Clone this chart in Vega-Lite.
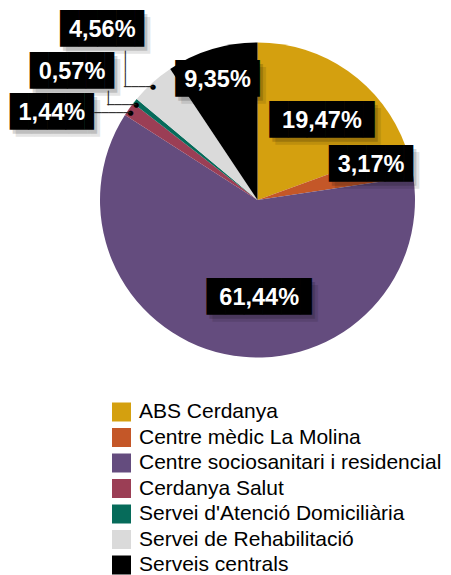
{
  "$schema": "https://vega.github.io/schema/vega-lite/v6.json",
  "width": 315,
  "height": 315,
  "autosize": {"type": "none"},
  "padding": {"left": 100, "top": 42.5, "right": 36, "bottom": 217.5},
  "background": "white",
  "config": {"view": {"stroke": null}},
  "data": {"values": [
    {"category": "ABS Cerdanya", "value": 19.47, "label": "19,47%"},
    {"category": "Centre mèdic La Molina", "value": 3.17, "label": "3,17%"},
    {"category": "Centre sociosanitari i residencial", "value": 61.44, "label": "61,44%"},
    {"category": "Cerdanya Salut", "value": 1.44, "label": "1,44%"},
    {"category": "Servei d'Atenció Domiciliària", "value": 0.57, "label": "0,57%"},
    {"category": "Servei de Rehabilitació", "value": 4.56, "label": "4,56%"},
    {"category": "Serveis centrals", "value": 9.35, "label": "9,35%"}
  ]},
  "encoding": {
    "theta": {"field": "value", "type": "quantitative", "stack": true},
    "order": {"field": "category", "type": "ordinal"}
  },
  "layer": [
    {"mark": {"type": "arc"},
     "encoding": {"color": {"field": "category", "type": "nominal",
       "scale": {"range": ["#D4A00F", "#C45728", "#644C7E", "#9B3E55", "#066B5A", "#DADADA", "#000000"]},
       "legend": {"orient": "none", "legendX": 11, "legendY": 359, "title": null, "padding": 0,
         "symbolType": "square", "symbolSize": 361, "symbolStrokeWidth": 0, "labelFont": "Liberation Sans",
         "labelFontSize": 21, "labelColor": "#000000", "labelOffset": 7, "labelLimit": 400, "rowPadding": 3.5}}}},

    {"mark": {"type": "text", "radius": 102, "thetaOffset": 0.0724, "font": "DejaVu Sans Mono", "fontSize": 31, "align": "center", "baseline": "middle", "dx": 6.5, "dy": 4, "color": "#000", "opacity": 0.16},
     "encoding": {"detail": {"field": "category"}, "text": {"condition": {"test": "datum.label === '19,47%'", "value": "█████▋"}, "value": ""}}},
    {"mark": {"type": "text", "radius": 102, "thetaOffset": 0.0724, "font": "DejaVu Sans Mono", "fontSize": 31, "align": "center", "baseline": "middle", "dx": 9.5, "dy": 7, "color": "#000", "opacity": 0.1},
     "encoding": {"detail": {"field": "category"}, "text": {"condition": {"test": "datum.label === '19,47%'", "value": "█████▋"}, "value": ""}}},
    {"mark": {"type": "text", "radius": 118.8, "thetaOffset": -0.0506, "font": "DejaVu Sans Mono", "fontSize": 31, "align": "center", "baseline": "middle", "dx": 7.67, "dy": 4, "color": "#000", "opacity": 0.16},
     "encoding": {"detail": {"field": "category"}, "text": {"condition": {"test": "datum.label === '3,17%'", "value": "████▌"}, "value": ""}}},
    {"mark": {"type": "text", "radius": 118.8, "thetaOffset": -0.0506, "font": "DejaVu Sans Mono", "fontSize": 31, "align": "center", "baseline": "middle", "dx": 10.67, "dy": 7, "color": "#000", "opacity": 0.1},
     "encoding": {"detail": {"field": "category"}, "text": {"condition": {"test": "datum.label === '3,17%'", "value": "████▌"}, "value": ""}}},
    {"mark": {"type": "text", "radius": 98, "thetaOffset": -0.2286, "font": "DejaVu Sans Mono", "fontSize": 31, "align": "center", "baseline": "middle", "dx": 6.5, "dy": 4, "color": "#000", "opacity": 0.16},
     "encoding": {"detail": {"field": "category"}, "text": {"condition": {"test": "datum.label === '61,44%'", "value": "█████▋"}, "value": ""}}},
    {"mark": {"type": "text", "radius": 98, "thetaOffset": -0.2286, "font": "DejaVu Sans Mono", "fontSize": 31, "align": "center", "baseline": "middle", "dx": 9.5, "dy": 7, "color": "#000", "opacity": 0.1},
     "encoding": {"detail": {"field": "category"}, "text": {"condition": {"test": "datum.label === '61,44%'", "value": "█████▋"}, "value": ""}}},
    {"mark": {"type": "text", "radius": 223.2, "thetaOffset": -0.2164, "font": "DejaVu Sans Mono", "fontSize": 31, "align": "center", "baseline": "middle", "dx": 7.67, "dy": 4, "color": "#000", "opacity": 0.16},
     "encoding": {"detail": {"field": "category"}, "text": {"condition": {"test": "datum.label === '1,44%'", "value": "████▌"}, "value": ""}}},
    {"mark": {"type": "text", "radius": 223.2, "thetaOffset": -0.2164, "font": "DejaVu Sans Mono", "fontSize": 31, "align": "center", "baseline": "middle", "dx": 10.67, "dy": 7, "color": "#000", "opacity": 0.1},
     "encoding": {"detail": {"field": "category"}, "text": {"condition": {"test": "datum.label === '1,44%'", "value": "████▌"}, "value": ""}}},
    {"mark": {"type": "text", "radius": 225.4, "thetaOffset": -0.075, "font": "DejaVu Sans Mono", "fontSize": 31, "align": "center", "baseline": "middle", "dx": 7.67, "dy": 4, "color": "#000", "opacity": 0.16},
     "encoding": {"detail": {"field": "category"}, "text": {"condition": {"test": "datum.label === '0,57%'", "value": "████▌"}, "value": ""}}},
    {"mark": {"type": "text", "radius": 225.4, "thetaOffset": -0.075, "font": "DejaVu Sans Mono", "fontSize": 31, "align": "center", "baseline": "middle", "dx": 10.67, "dy": 7, "color": "#000", "opacity": 0.1},
     "encoding": {"detail": {"field": "category"}, "text": {"condition": {"test": "datum.label === '0,57%'", "value": "████▌"}, "value": ""}}},
    {"mark": {"type": "text", "radius": 230, "thetaOffset": -0.0105, "font": "DejaVu Sans Mono", "fontSize": 31, "align": "center", "baseline": "middle", "dx": 7.67, "dy": 4, "color": "#000", "opacity": 0.16},
     "encoding": {"detail": {"field": "category"}, "text": {"condition": {"test": "datum.label === '4,56%'", "value": "████▌"}, "value": ""}}},
    {"mark": {"type": "text", "radius": 230, "thetaOffset": -0.0105, "font": "DejaVu Sans Mono", "fontSize": 31, "align": "center", "baseline": "middle", "dx": 10.67, "dy": 7, "color": "#000", "opacity": 0.1},
     "encoding": {"detail": {"field": "category"}, "text": {"condition": {"test": "datum.label === '4,56%'", "value": "████▌"}, "value": ""}}},
    {"mark": {"type": "text", "radius": 126.5, "thetaOffset": -0.0279, "font": "DejaVu Sans Mono", "fontSize": 31, "align": "center", "baseline": "middle", "dx": 7.67, "dy": 4, "color": "#000", "opacity": 0.16},
     "encoding": {"detail": {"field": "category"}, "text": {"condition": {"test": "datum.label === '9,35%'", "value": "████▌"}, "value": ""}}},
    {"mark": {"type": "text", "radius": 126.5, "thetaOffset": -0.0279, "font": "DejaVu Sans Mono", "fontSize": 31, "align": "center", "baseline": "middle", "dx": 10.67, "dy": 7, "color": "#000", "opacity": 0.1},
     "encoding": {"detail": {"field": "category"}, "text": {"condition": {"test": "datum.label === '9,35%'", "value": "████▌"}, "value": ""}}},

    {"mark": {"type": "text", "radius": 154, "thetaOffset": -0.015, "font": "DejaVu Sans", "fontSize": 7, "align": "center", "baseline": "middle", "color": "#000"},
     "encoding": {"detail": {"field": "category"}, "text": {"condition": {"test": "datum.label === '1,44%' || datum.label === '0,57%' || datum.label === '4,56%'", "value": "●"}, "value": ""}}},
    {"mark": {"type": "text", "radius": 154, "thetaOffset": -0.015, "font": "DejaVu Sans Mono", "fontSize": 12, "align": "right", "baseline": "middle", "color": "#222"},
     "encoding": {"detail": {"field": "category"}, "text": {"condition": [{"test": "datum.label === '1,44%'", "value": "─────"}, {"test": "datum.label === '0,57%' || datum.label === '4,56%'", "value": "────"}], "value": ""}}},
    {"mark": {"type": "text", "radius": 154, "thetaOffset": -0.015, "font": "DejaVu Sans Mono", "fontSize": 12, "align": "right", "baseline": "middle", "angle": 90, "dy": 28, "color": "#222"},
     "encoding": {"detail": {"field": "category"}, "text": {"condition": [{"test": "datum.label === '4,56%'", "value": "─────"}, {"test": "datum.label === '0,57%'", "value": "──"}], "value": ""}}},

    {"mark": {"type": "text", "radius": 102, "thetaOffset": 0.0724, "font": "DejaVu Sans Mono", "fontSize": 31, "align": "center", "baseline": "middle", "dx": 3.5, "color": "#000"},
     "encoding": {"detail": {"field": "category"}, "text": {"condition": {"test": "datum.label === '19,47%'", "value": "█████▋"}, "value": ""}}},
    {"mark": {"type": "text", "radius": 118.8, "thetaOffset": -0.0506, "font": "DejaVu Sans Mono", "fontSize": 31, "align": "center", "baseline": "middle", "dx": 4.67, "color": "#000"},
     "encoding": {"detail": {"field": "category"}, "text": {"condition": {"test": "datum.label === '3,17%'", "value": "████▌"}, "value": ""}}},
    {"mark": {"type": "text", "radius": 98, "thetaOffset": -0.2286, "font": "DejaVu Sans Mono", "fontSize": 31, "align": "center", "baseline": "middle", "dx": 3.5, "color": "#000"},
     "encoding": {"detail": {"field": "category"}, "text": {"condition": {"test": "datum.label === '61,44%'", "value": "█████▋"}, "value": ""}}},
    {"mark": {"type": "text", "radius": 223.2, "thetaOffset": -0.2164, "font": "DejaVu Sans Mono", "fontSize": 31, "align": "center", "baseline": "middle", "dx": 4.67, "color": "#000"},
     "encoding": {"detail": {"field": "category"}, "text": {"condition": {"test": "datum.label === '1,44%'", "value": "████▌"}, "value": ""}}},
    {"mark": {"type": "text", "radius": 225.4, "thetaOffset": -0.075, "font": "DejaVu Sans Mono", "fontSize": 31, "align": "center", "baseline": "middle", "dx": 4.67, "color": "#000"},
     "encoding": {"detail": {"field": "category"}, "text": {"condition": {"test": "datum.label === '0,57%'", "value": "████▌"}, "value": ""}}},
    {"mark": {"type": "text", "radius": 230, "thetaOffset": -0.0105, "font": "DejaVu Sans Mono", "fontSize": 31, "align": "center", "baseline": "middle", "dx": 4.67, "color": "#000"},
     "encoding": {"detail": {"field": "category"}, "text": {"condition": {"test": "datum.label === '4,56%'", "value": "████▌"}, "value": ""}}},
    {"mark": {"type": "text", "radius": 126.5, "thetaOffset": -0.0279, "font": "DejaVu Sans Mono", "fontSize": 31, "align": "center", "baseline": "middle", "dx": 4.67, "color": "#000"},
     "encoding": {"detail": {"field": "category"}, "text": {"condition": {"test": "datum.label === '9,35%'", "value": "████▌"}, "value": ""}}},

    {"mark": {"type": "text", "radius": 102, "thetaOffset": 0.0724, "font": "Liberation Sans", "fontWeight": "bold", "fontSize": 23.5, "align": "center", "baseline": "middle", "color": "#fff"},
     "encoding": {"detail": {"field": "category"}, "text": {"condition": {"test": "datum.label === '19,47%'", "field": "label"}, "value": ""}}},
    {"mark": {"type": "text", "radius": 118.8, "thetaOffset": -0.0506, "font": "Liberation Sans", "fontWeight": "bold", "fontSize": 23.5, "align": "center", "baseline": "middle", "color": "#fff"},
     "encoding": {"detail": {"field": "category"}, "text": {"condition": {"test": "datum.label === '3,17%'", "field": "label"}, "value": ""}}},
    {"mark": {"type": "text", "radius": 98, "thetaOffset": -0.2286, "font": "Liberation Sans", "fontWeight": "bold", "fontSize": 23.5, "align": "center", "baseline": "middle", "color": "#fff"},
     "encoding": {"detail": {"field": "category"}, "text": {"condition": {"test": "datum.label === '61,44%'", "field": "label"}, "value": ""}}},
    {"mark": {"type": "text", "radius": 223.2, "thetaOffset": -0.2164, "font": "Liberation Sans", "fontWeight": "bold", "fontSize": 23.5, "align": "center", "baseline": "middle", "color": "#fff"},
     "encoding": {"detail": {"field": "category"}, "text": {"condition": {"test": "datum.label === '1,44%'", "field": "label"}, "value": ""}}},
    {"mark": {"type": "text", "radius": 225.4, "thetaOffset": -0.075, "font": "Liberation Sans", "fontWeight": "bold", "fontSize": 23.5, "align": "center", "baseline": "middle", "color": "#fff"},
     "encoding": {"detail": {"field": "category"}, "text": {"condition": {"test": "datum.label === '0,57%'", "field": "label"}, "value": ""}}},
    {"mark": {"type": "text", "radius": 230, "thetaOffset": -0.0105, "font": "Liberation Sans", "fontWeight": "bold", "fontSize": 23.5, "align": "center", "baseline": "middle", "color": "#fff"},
     "encoding": {"detail": {"field": "category"}, "text": {"condition": {"test": "datum.label === '4,56%'", "field": "label"}, "value": ""}}},
    {"mark": {"type": "text", "radius": 126.5, "thetaOffset": -0.0279, "font": "Liberation Sans", "fontWeight": "bold", "fontSize": 23.5, "align": "center", "baseline": "middle", "color": "#fff"},
     "encoding": {"detail": {"field": "category"}, "text": {"condition": {"test": "datum.label === '9,35%'", "field": "label"}, "value": ""}}}
  ]
}
